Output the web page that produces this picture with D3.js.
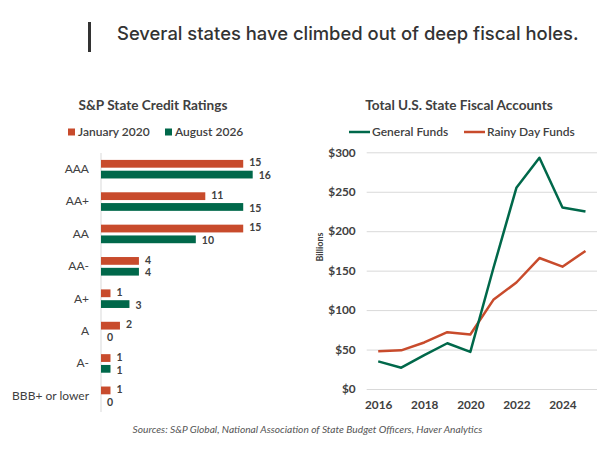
<!DOCTYPE html>
<html><head><meta charset="utf-8">
<script src="https://cdn.jsdelivr.net/npm/d3@7"></script>
<style>
html,body{margin:0;padding:0;background:#fff;}
text{font-family:Lato,"Open Sans",sans-serif;}
</style></head>
<body>
<svg id="c" width="613" height="469"></svg>
<script>
// ---- Data ----
const ratingCategories = ["AAA","AA+","AA","AA-","A+","A","A-","BBB+ or lower"];
const ratingSeries = ["January 2020","August 2026"];
const jan2020 = [15,11,15,4,1,2,1,1];
const aug2026 = [16,15,10,4,3,0,1,0];

const years = [2016,2017,2018,2019,2020,2021,2022,2023,2024,2025];
const generalFunds = [35,27,43,58,47,153,255,293,230,225];
const rainyDayFunds = [48,49,59,72,69,113,135,166,155,175];
const yTicks = [0,50,100,150,200,250,300];
const xTickYears = [2016,2018,2020,2022,2024];

const ORANGE = "#C84B2C", GREEN = "#00684A", TXT = "#404040", GRID = "#d9d9d9";

const svg = d3.select("#c");

// ---- Main title ----
svg.append("rect").attr("x",88).attr("y",22).attr("width",3).attr("height",30).attr("fill","#333");
svg.append("text").attr("x",117).attr("y",40).attr("font-size",18.4).attr("font-weight",500)
  .style("font-family","Inter, 'Open Sans', sans-serif").attr("fill","#333")
  .text("Several states have climbed out of deep fiscal holes.");

// ---- Bar chart ----
svg.append("text").attr("x",153).attr("y",110).attr("text-anchor","middle")
  .attr("font-size",13.6).attr("font-weight","bold").attr("fill",TXT).text("S&P State Credit Ratings");

const legB = svg.append("g");
const legBItems = [{name:ratingSeries[0],c:ORANGE,x:68},{name:ratingSeries[1],c:GREEN,x:165}];
legBItems.forEach(d=>{
  legB.append("rect").attr("x",d.x).attr("y",128.5).attr("width",7).attr("height",7).attr("fill",d.c);
  legB.append("text").attr("x",d.x+10).attr("y",132).attr("dy","0.35em").attr("font-size",12)
    .attr("font-weight",600).attr("fill",TXT).text(d.name);
});

const xB = d3.scaleLinear().domain([0,16]).range([101,252.7]);
const yB = d3.scaleBand().domain(ratingCategories).range([153,412]);
const yB1 = d3.scaleBand().domain(ratingSeries).range([0,yB.bandwidth()]).paddingInner(0.28).paddingOuter(0.64);

svg.append("line").attr("x1",xB(0)).attr("x2",xB(0)).attr("y1",153).attr("y2",412)
  .attr("stroke",GRID).attr("stroke-width",1);

const catAxis = d3.axisLeft(yB).tickSize(0).tickPadding(12);
const ga = svg.append("g").attr("transform",`translate(${xB(0)},0)`).call(catAxis);
ga.select(".domain").remove();
ga.selectAll("text").attr("font-size",12).attr("fill",TXT).style("font-family","Lato, sans-serif");

const rows = ratingCategories.map((c,i)=>({cat:c, vals:[{s:ratingSeries[0],v:jan2020[i],c:ORANGE,off:-1},{s:ratingSeries[1],v:aug2026[i],c:GREEN,off:1}]}));
const rg = svg.selectAll("g.row").data(rows).join("g").attr("class","row")
  .attr("transform",d=>`translate(0,${yB(d.cat)})`);
rg.selectAll("rect").data(d=>d.vals).join("rect")
  .attr("x",xB(0)).attr("y",d=>yB1(d.s)).attr("width",d=>xB(d.v)-xB(0)).attr("height",yB1.bandwidth())
  .attr("fill",d=>d.c);
rg.selectAll("text").data(d=>d.vals).join("text")
  .attr("x",d=>xB(d.v)+6).attr("y",d=>yB1(d.s)+yB1.bandwidth()/2+d.off).attr("dy","0.35em")
  .attr("font-size",10.5).attr("font-weight","bold").attr("fill",TXT).text(d=>d.v);

// ---- Line chart ----
svg.append("text").attr("x",459).attr("y",110).attr("text-anchor","middle")
  .attr("font-size",13.6).attr("font-weight","bold").attr("fill",TXT).text("Total U.S. State Fiscal Accounts");

const legL = [{name:"General Funds",c:GREEN,x:349},{name:"Rainy Day Funds",c:ORANGE,x:464}];
legL.forEach(d=>{
  svg.append("line").attr("x1",d.x).attr("x2",d.x+21).attr("y1",132).attr("y2",132)
    .attr("stroke",d.c).attr("stroke-width",2.5);
  svg.append("text").attr("x",d.x+23).attr("y",132).attr("dy","0.35em").attr("font-size",12)
    .attr("font-weight",600).attr("fill",TXT).text(d.name);
});

const xL = d3.scalePoint().domain(years).range([366.7,597]).padding(0.5);
const yL = d3.scaleLinear().domain([0,300]).range([389,152.3]);

const gy = svg.append("g").attr("transform","translate(366.7,0)")
  .call(d3.axisLeft(yL).tickValues(yTicks).tickFormat(d=>"$"+d).tickSize(-(597-366.7)).tickPadding(11));
gy.select(".domain").remove();
gy.selectAll(".tick line").attr("stroke",GRID).attr("stroke-width",1);
gy.selectAll("text").attr("font-size",11.8).attr("font-weight","bold").attr("fill",TXT).style("font-family","Lato, sans-serif");

const gx = svg.append("g").attr("transform","translate(0,389)")
  .call(d3.axisBottom(xL).tickValues(xTickYears).tickFormat(d3.format("d")).tickSize(0).tickPadding(12));
gx.select(".domain").remove();
gx.selectAll("text").attr("font-size",11.8).attr("font-weight","bold").attr("fill",TXT).style("font-family","Lato, sans-serif");

svg.append("text").attr("transform","translate(323,247) rotate(-90)").attr("text-anchor","middle")
  .attr("font-size",9).attr("font-weight","bold").attr("fill",TXT).text("Billions");

const line = d3.line().x((d,i)=>xL(years[i])).y(d=>yL(d));
svg.append("path").datum(rainyDayFunds).attr("d",line).attr("fill","none").attr("stroke",ORANGE).attr("stroke-width",2.5).attr("stroke-linejoin","round");
svg.append("path").datum(generalFunds).attr("d",line).attr("fill","none").attr("stroke",GREEN).attr("stroke-width",2.5).attr("stroke-linejoin","round");

// ---- Sources ----
svg.append("text").attr("x",307.5).attr("y",433).attr("text-anchor","middle").attr("font-size",10.2)
  .attr("font-style","italic").attr("fill","#555")
  .text("Sources: S&P Global, National Association of State Budget Officers, Haver Analytics");
</script>
</body></html>
